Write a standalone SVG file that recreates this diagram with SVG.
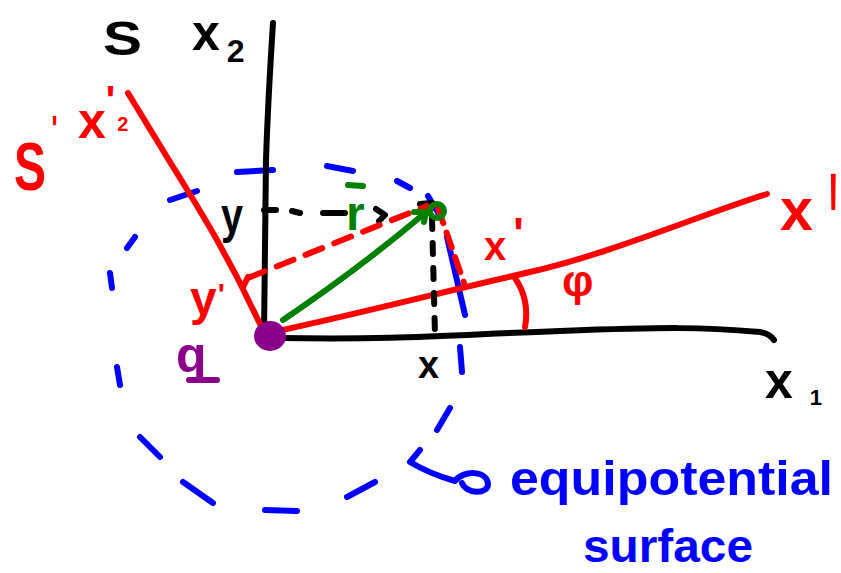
<svg xmlns="http://www.w3.org/2000/svg" width="841" height="573" viewBox="0 0 841 573">
<style>
.s{fill:none;stroke-linecap:round;stroke-linejoin:round;stroke-width:6}
.k{stroke:#000}
.r{stroke:#ff0000}
.g{stroke:#008000}
.b{stroke:#0000ff}
.p{stroke:#8a008a}
.t{font-family:"Liberation Sans",Arial,sans-serif;font-weight:bold}
.tk{fill:#000}
.tr{fill:#ff0000}
.tg{fill:#008000}
.tb{fill:#0000ff}
.tp{fill:#8a008a}
</style>
<rect width="841" height="573" fill="#fff"/>

<g id="equipotential-circle" class="s b">
<path d="M237,172 L273,170"/>
<path d="M327,166 L353,171"/>
<path d="M397,181 L410,188"/>
<path d="M428,196 L440,216"/>
<path d="M447,237 L465,315"/>
<path d="M460,347 L462,372"/>
<path d="M450,408 L437,430"/>
<path d="M375,482 L347,497"/>
<path d="M297,511 L265,510"/>
<path d="M213,503 L183,482"/>
<path d="M160,457 L140,437"/>
<path d="M120,385 L117,367"/>
<path d="M112,288 L110,273"/>
<path d="M127,248 L135,237"/>
<path d="M170,200 L197,191"/>
</g>

<g id="axes-S" class="s k">
<path d="M273,23 Q268,100 266,160 L264,335"/>
<path d="M280,338 C400,340 450,335 560,331 S700,327 760,332 Q770,334 774,340"/>
<path d="M264,210 L276,210"/>
</g>

<g id="axes-S-prime" class="s r">
<path d="M128,93 L170,162 Q200,210 217,240 L237,277 L263,330"/>
<path d="M277,331 C350,316 450,290 530,272 S700,215 767,194"/>
<path d="M243,287 L248,277"/>
<path d="M515,278 Q530,300 525,327"/>
</g>

<g id="connectors">
<path class="s k" d="M292,211 L300,213 M323,213 L345,213 M376,209 L385,215 L379,221 M420,204 L432,203"/>
<path class="s k" d="M432,218 L435,335" stroke-dasharray="11 14"/>
<path class="s r" d="M248,278 L427,206" stroke-dasharray="18 13"/>
<path class="s r" d="M438,208 L464,283" stroke-dasharray="16 10"/>
<path class="s g" d="M283,320 Q360,268 425,213"/>
<path class="s g" d="M414,212 L426,212 L424,222"/>
<circle class="s g" cx="437" cy="211" r="7"/>
<path class="s b" d="M420,450 L410,462 Q430,474 455,481 C463,470 487,470 488,484 C488,495 466,494 462,483"/>
</g>

<g id="charge-q">
<ellipse cx="270" cy="336" rx="16" ry="15" fill="#8a008a"/>
<text class="t tp" x="176" y="372" font-size="50">q</text>
<path class="s p" d="M189,380 L217,380"/>
</g>

<g id="labels">
<text class="t tk" x="103" y="55" font-size="48" textLength="39" lengthAdjust="spacingAndGlyphs">S</text>
<text class="t tk" x="192" y="50" font-size="50">x<tspan dx="7" dy="12" font-size="32">2</tspan></text>
<text class="t tr" transform="translate(14,190) scale(0.8,1.15)" x="0" y="0" font-size="60">S<tspan dx="7" dy="-42" font-size="32">'</tspan></text>
<text class="t tr" x="78" y="138" font-size="50">x<tspan dx="0" dy="-24" font-size="40">'</tspan><tspan dx="2" dy="17" font-size="20">2</tspan></text>
<text class="t tk" x="221" y="233" font-size="50" textLength="22" lengthAdjust="spacingAndGlyphs">y</text>
<text class="t tg" x="346" y="230" font-size="48">r</text>
<path class="s g" d="M348,185 L363,186"/>
<text class="t tr" x="190" y="315" font-size="48">y<tspan dx="1" dy="-11" font-size="30">'</tspan></text>
<text class="t tr" x="484" y="260" font-size="40">x<tspan dx="7" dy="-11" font-size="44">'</tspan></text>
<text class="t tr" x="562" y="296" font-size="44">φ</text>
<text class="t tr" x="780" y="230" font-size="60" textLength="33" lengthAdjust="spacingAndGlyphs">x</text>
<text class="t tr" transform="translate(829,274) scale(1,4)" x="0" y="0" font-size="36">'</text>
<text class="t tk" x="418" y="378" font-size="38">x</text>
<text class="t tk" x="765" y="398" font-size="50">x<tspan dx="17" dy="7" font-size="22">1</tspan></text>
<text class="t tb" x="510" y="495" font-size="48" textLength="323" lengthAdjust="spacingAndGlyphs">equipotential</text>
<text class="t tb" x="583" y="562" font-size="46" textLength="170" lengthAdjust="spacingAndGlyphs">surface</text>
</g>
</svg>
